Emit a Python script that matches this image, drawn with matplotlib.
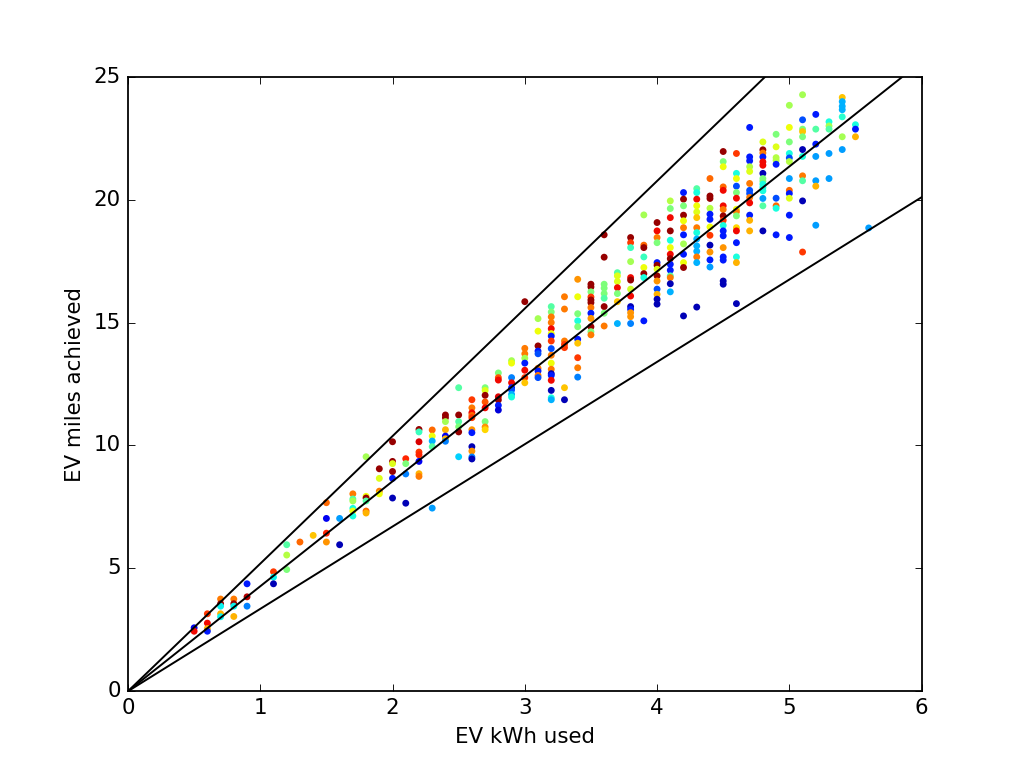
import matplotlib
matplotlib.use("Agg")
import matplotlib.pyplot as plt
import numpy as np

# EV kWh used per trip, EV miles achieved, and a colour index (jet scale 0..1)
kwh = [0.5, 0.5,
       0.6, 0.6, 0.6, 0.6,
       0.7, 0.7, 0.7, 0.7, 0.7,
       0.8, 0.8, 0.8, 0.8,
       0.9, 0.9, 0.9,
       1.1, 1.1, 1.1,
       1.2, 1.2, 1.2,
       1.3, 1.4,
       1.5, 1.5, 1.5, 1.5,
       1.6, 1.6,
       1.7, 1.7, 1.7, 1.7, 1.7, 1.7,
       1.8, 1.8, 1.8, 1.8, 1.8, 1.8,
       1.9, 1.9, 1.9, 1.9,
       2.0, 2.0, 2.0, 2.0, 2.0, 2.0,
       2.1, 2.1, 2.1, 2.1,
       2.2, 2.2, 2.2, 2.2, 2.2, 2.2, 2.2, 2.2,
       2.3, 2.3, 2.3, 2.3, 2.3,
       2.4, 2.4, 2.4, 2.4, 2.4, 2.4, 2.4,
       2.5, 2.5, 2.5, 2.5, 2.5, 2.5,
       2.6, 2.6, 2.6, 2.6, 2.6, 2.6, 2.6, 2.6, 2.6, 2.6, 2.6,
       2.7, 2.7, 2.7, 2.7, 2.7, 2.7, 2.7, 2.7,
       2.8, 2.8, 2.8, 2.8, 2.8, 2.8, 2.8,
       2.9, 2.9, 2.9, 2.9, 2.9, 2.9, 2.9, 2.9,
       3.0, 3.0, 3.0, 3.0, 3.0, 3.0, 3.0, 3.0,
       3.1, 3.1, 3.1, 3.1, 3.1, 3.1, 3.1, 3.1, 3.1,
       3.2, 3.2, 3.2, 3.2, 3.2, 3.2, 3.2, 3.2, 3.2, 3.2, 3.2, 3.2, 3.2, 3.2, 3.2, 3.2, 3.2, 3.2,
       3.3, 3.3, 3.3, 3.3, 3.3, 3.3, 3.3,
       3.4, 3.4, 3.4, 3.4, 3.4, 3.4, 3.4, 3.4, 3.4, 3.4,
       3.5, 3.5, 3.5, 3.5, 3.5, 3.5, 3.5, 3.5, 3.5, 3.5, 3.5, 3.5,
       3.6, 3.6, 3.6, 3.6, 3.6, 3.6, 3.6, 3.6, 3.6,
       3.7, 3.7, 3.7, 3.7, 3.7, 3.7, 3.7,
       3.8, 3.8, 3.8, 3.8, 3.8, 3.8, 3.8, 3.8, 3.8, 3.8, 3.8, 3.8, 3.8,
       3.9, 3.9, 3.9, 3.9, 3.9, 3.9, 3.9, 3.9,
       4.0, 4.0, 4.0, 4.0, 4.0, 4.0, 4.0, 4.0, 4.0, 4.0, 4.0, 4.0, 4.0,
       4.1, 4.1, 4.1, 4.1, 4.1, 4.1, 4.1, 4.1, 4.1, 4.1, 4.1, 4.1, 4.1, 4.1,
       4.2, 4.2, 4.2, 4.2, 4.2, 4.2, 4.2, 4.2, 4.2, 4.2, 4.2, 4.2,
       4.3, 4.3, 4.3, 4.3, 4.3, 4.3, 4.3, 4.3, 4.3, 4.3, 4.3, 4.3, 4.3, 4.3,
       4.4, 4.4, 4.4, 4.4, 4.4, 4.4, 4.4, 4.4, 4.4, 4.4, 4.4, 4.4,
       4.5, 4.5, 4.5, 4.5, 4.5, 4.5, 4.5, 4.5, 4.5, 4.5, 4.5, 4.5, 4.5, 4.5, 4.5, 4.5, 4.5,
       4.6, 4.6, 4.6, 4.6, 4.6, 4.6, 4.6, 4.6, 4.6, 4.6, 4.6, 4.6, 4.6, 4.6, 4.6,
       4.7, 4.7, 4.7, 4.7, 4.7, 4.7, 4.7, 4.7, 4.7, 4.7, 4.7, 4.7, 4.7,
       4.8, 4.8, 4.8, 4.8, 4.8, 4.8, 4.8, 4.8, 4.8, 4.8, 4.8, 4.8, 4.8, 4.8, 4.8,
       4.9, 4.9, 4.9, 4.9, 4.9, 4.9, 4.9, 4.9, 4.9,
       5.0, 5.0, 5.0, 5.0, 5.0, 5.0, 5.0, 5.0, 5.0, 5.0, 5.0, 5.0,
       5.1, 5.1, 5.1, 5.1, 5.1, 5.1, 5.1, 5.1, 5.1, 5.1, 5.1,
       5.2, 5.2, 5.2, 5.2, 5.2, 5.2, 5.2,
       5.3, 5.3, 5.3, 5.3, 5.3,
       5.4, 5.4, 5.4, 5.4, 5.4, 5.4, 5.4,
       5.5, 5.5, 5.5,
       5.6]

miles = [2.58, 2.44,
         3.15, 2.77, 2.55, 2.44,
         3.75, 3.56, 3.46, 3.15, 3.03,
         3.75, 3.56, 3.46, 3.04,
         4.37, 3.84, 3.46,
         4.86, 4.64, 4.37,
         5.96, 5.54, 4.95,
         6.07, 6.34,
         7.67, 7.03, 6.43, 6.07,
         7.03, 5.96,
         8.03, 7.82, 7.74, 7.44, 7.33, 7.13,
         9.54, 7.93, 7.86, 7.74, 7.33, 7.25,
         9.05, 8.66, 8.14, 8.03,
         10.15, 9.35, 9.26, 8.94, 8.66, 7.86,
         9.46, 9.26, 8.84, 7.65,
         10.65, 10.55, 10.15, 9.73, 9.62, 9.35, 8.85, 8.74,
         10.63, 10.38, 10.18, 9.95, 7.45,
         11.24, 11.13, 10.97, 10.64, 10.38, 10.27, 10.17,
         12.35, 11.24, 10.97, 10.76, 10.55, 9.54,
         11.86, 11.53, 11.33, 11.22, 11.13, 10.64, 10.52, 9.95, 9.77, 9.53, 9.45,
         12.35, 12.24, 12.04, 11.77, 11.53, 10.97, 10.75, 10.64,
         12.95, 12.76, 12.66, 11.98, 11.85, 11.63, 11.44,
         13.45, 13.35, 12.76, 12.55, 12.35, 12.26, 12.08, 11.97,
         15.85, 13.95, 13.73, 13.55, 13.35, 13.06, 12.76, 12.55,
         15.16, 14.65, 14.05, 13.84, 13.73, 13.14, 13.03, 12.85, 12.76,
         15.65, 15.43, 15.23, 15.0, 14.75, 14.55, 14.45, 14.25, 13.94, 13.67, 13.35, 13.1, 12.92, 12.85, 12.65, 12.24, 11.94, 11.86,
         16.05, 15.55, 14.25, 14.11, 13.98, 12.35, 11.86,
         16.76, 16.05, 15.36, 15.07, 14.83, 14.32, 14.16, 13.57, 13.16, 12.78,
         16.56, 16.45, 16.25, 16.04, 15.92, 15.81, 15.61, 15.38, 15.17, 14.83, 14.63, 14.5,
         18.57, 17.66, 16.56, 16.4, 16.18, 15.99, 15.65, 15.38, 14.86,
         17.03, 16.9, 16.67, 16.42, 16.18, 15.85, 14.96,
         18.46, 18.25, 18.05, 17.48, 16.83, 16.73, 16.36, 16.08, 15.65, 15.54, 15.4, 15.24, 14.96,
         19.38, 18.15, 18.05, 17.67, 17.24, 16.99, 16.83, 15.07,
         19.07, 18.73, 18.46, 18.25, 17.44, 17.33, 17.17, 16.9, 16.69, 16.36, 16.15, 15.95, 15.75,
         19.95, 19.64, 19.27, 18.73, 18.35, 18.05, 17.78, 17.6, 17.37, 17.13, 16.9, 16.83, 16.58, 16.25,
         20.29, 20.02, 19.75, 19.37, 19.14, 18.86, 18.57, 18.2, 17.78, 17.44, 17.24, 15.27,
         20.45, 20.29, 20.02, 19.75, 19.5, 19.27, 18.86, 18.66, 18.4, 18.12, 17.9, 17.67, 17.44, 15.63,
         20.86, 20.15, 20.05, 19.65, 19.41, 19.2, 18.89, 18.55, 18.15, 17.87, 17.55, 17.26,
         21.96, 21.55, 21.34, 20.52, 20.38, 19.75, 19.6, 19.34, 19.16, 18.95, 18.73, 18.53, 18.05, 17.67, 17.54, 16.69, 16.56,
         21.88, 21.07, 20.86, 20.55, 20.29, 20.06, 19.61, 19.51, 19.34, 18.86, 18.73, 18.25, 17.67, 17.44, 15.77,
         22.94, 21.74, 21.58, 21.34, 21.15, 20.66, 20.38, 20.25, 20.09, 19.87, 19.37, 19.16, 18.73,
         22.35, 22.03, 21.9, 21.74, 21.54, 21.4, 21.07, 20.86, 20.75, 20.63, 20.5, 20.36, 20.05, 19.75, 18.73,
         22.66, 22.15, 21.71, 21.6, 21.44, 20.06, 19.75, 19.65, 18.57,
         23.84, 22.94, 22.35, 21.88, 21.7, 21.55, 20.86, 20.38, 20.25, 20.06, 19.37, 18.46,
         24.27, 23.25, 22.87, 22.77, 22.56, 22.04, 21.76, 20.97, 20.77, 19.95, 17.87,
         23.47, 22.87, 22.26, 21.76, 20.77, 20.55, 18.96,
         23.17, 23.0, 22.87, 21.88, 20.86,
         24.16, 23.99, 23.8, 23.66, 23.37, 22.56, 22.04,
         23.05, 22.87, 22.56,
         18.85]

shade = [0.1, 0.9,
         0.85, 0.9, 0.72, 0.15,
         0.78, 0.98, 0.36, 0.72, 0.36,
         0.78, 0.98, 0.36, 0.72,
         0.15, 0.95, 0.25,
         0.85, 0.36, 0.05,
         0.45, 0.57, 0.5,
         0.8, 0.7,
         0.8, 0.1, 0.87, 0.75,
         0.28, 0.05,
         0.78, 0.45, 0.55, 0.38, 0.64, 0.38,
         0.55, 0.64, 0.98, 0.45, 0.8, 0.72,
         0.98, 0.62, 0.78, 0.64,
         0.98, 0.98, 0.62, 0.98, 0.15, 0.05,
         0.87, 0.5, 0.25, 0.05,
         0.98, 0.42, 0.92, 0.85, 0.87, 0.1, 0.72, 0.78,
         0.8, 0.64, 0.3, 0.45, 0.28,
         0.98, 0.98, 0.55, 0.72, 0.1, 0.72, 0.25,
         0.45, 0.98, 0.45, 0.5, 0.98, 0.33,
         0.85, 0.78, 0.9, 0.8, 0.85, 0.75, 0.15, 0.05, 0.75, 0.25, 0.05,
         0.5, 0.62, 0.98, 0.82, 0.9, 0.5, 0.75, 0.68,
         0.5, 0.82, 0.9, 0.92, 0.98, 0.15, 0.08,
         0.55, 0.64, 0.25, 0.9, 0.15, 0.2, 0.3, 0.38,
         0.98, 0.78, 0.78, 0.55, 0.15, 0.9, 0.85, 0.7,
         0.55, 0.64, 0.98, 0.15, 0.2, 0.78, 0.15, 0.78, 0.2,
         0.45, 0.5, 0.78, 0.78, 0.9, 0.64, 0.15, 0.85, 0.2, 0.78, 0.64, 0.78, 0.05, 0.15, 0.9, 0.05, 0.38, 0.3,
         0.78, 0.78, 0.78, 0.85, 0.85, 0.7, 0.05,
         0.75, 0.64, 0.5, 0.38, 0.5, 0.15, 0.7, 0.85, 0.78, 0.25,
         0.98, 0.98, 0.5, 0.85, 0.98, 0.98, 0.78, 0.15, 0.75, 0.98, 0.5, 0.78,
         0.98, 0.98, 0.5, 0.5, 0.5, 0.45, 0.98, 0.5, 0.78,
         0.45, 0.62, 0.62, 0.9, 0.5, 0.7, 0.3,
         0.98, 0.85, 0.42, 0.55, 0.9, 0.98, 0.6, 0.9, 0.05, 0.15, 0.75, 0.75, 0.25,
         0.55, 0.8, 0.98, 0.42, 0.64, 0.98, 0.38, 0.15,
         0.98, 0.9, 0.78, 0.5, 0.15, 0.98, 0.62, 0.98, 0.75, 0.2, 0.72, 0.05, 0.05,
         0.57, 0.5, 0.9, 0.98, 0.38, 0.64, 0.9, 0.98, 0.15, 0.15, 0.45, 0.78, 0.05, 0.3,
         0.15, 0.98, 0.5, 0.98, 0.64, 0.78, 0.15, 0.55, 0.15, 0.64, 0.98, 0.05,
         0.45, 0.38, 0.9, 0.64, 0.62, 0.7, 0.78, 0.38, 0.3, 0.3, 0.3, 0.78, 0.3, 0.05,
         0.8, 0.98, 0.98, 0.57, 0.15, 0.15, 0.64, 0.85, 0.05, 0.75, 0.15, 0.28,
         0.98, 0.5, 0.64, 0.8, 0.9, 0.9, 0.78, 0.98, 0.85, 0.38, 0.15, 0.15, 0.75, 0.15, 0.15, 0.05, 0.05,
         0.85, 0.38, 0.64, 0.2, 0.5, 0.9, 0.64, 0.78, 0.5, 0.68, 0.9, 0.15, 0.38, 0.72, 0.05,
         0.15, 0.15, 0.15, 0.57, 0.62, 0.78, 0.2, 0.2, 0.78, 0.9, 0.15, 0.72, 0.72,
         0.62, 0.98, 0.78, 0.15, 0.9, 0.9, 0.05, 0.5, 0.5, 0.38, 0.38, 0.38, 0.28, 0.45, 0.05,
         0.5, 0.62, 0.57, 0.57, 0.15, 0.2, 0.8, 0.38, 0.15,
         0.55, 0.64, 0.5, 0.38, 0.2, 0.57, 0.28, 0.8, 0.15, 0.62, 0.15, 0.15,
         0.55, 0.2, 0.5, 0.7, 0.5, 0.05, 0.38, 0.78, 0.45, 0.05, 0.85,
         0.15, 0.45, 0.15, 0.28, 0.28, 0.72, 0.28,
         0.38, 0.55, 0.45, 0.28, 0.28,
         0.7, 0.3, 0.3, 0.3, 0.4, 0.55, 0.28,
         0.38, 0.15, 0.72,
         0.28]

# miles per kWh of the three reference lines
slopes = [5.19, 4.27, 3.35]

plt.style.use('classic')
fig = plt.figure(figsize=(8, 6), dpi=128, facecolor='white')
ax = fig.add_subplot(111)

ax.scatter(kwh, miles, c=shade, cmap='jet', vmin=0, vmax=1,
           s=15, linewidths=0, zorder=2)

xline = np.array([0, 6])
for m in slopes:
    ax.plot(xline, m * xline, color='black', linewidth=1.1, zorder=3)

ax.set_xlim(0, 6)
ax.set_ylim(0, 25)
ax.set_xlabel('EV kWh used')
ax.set_ylabel('EV miles achieved')

fig.savefig('out.png', dpi=128, facecolor='white')
